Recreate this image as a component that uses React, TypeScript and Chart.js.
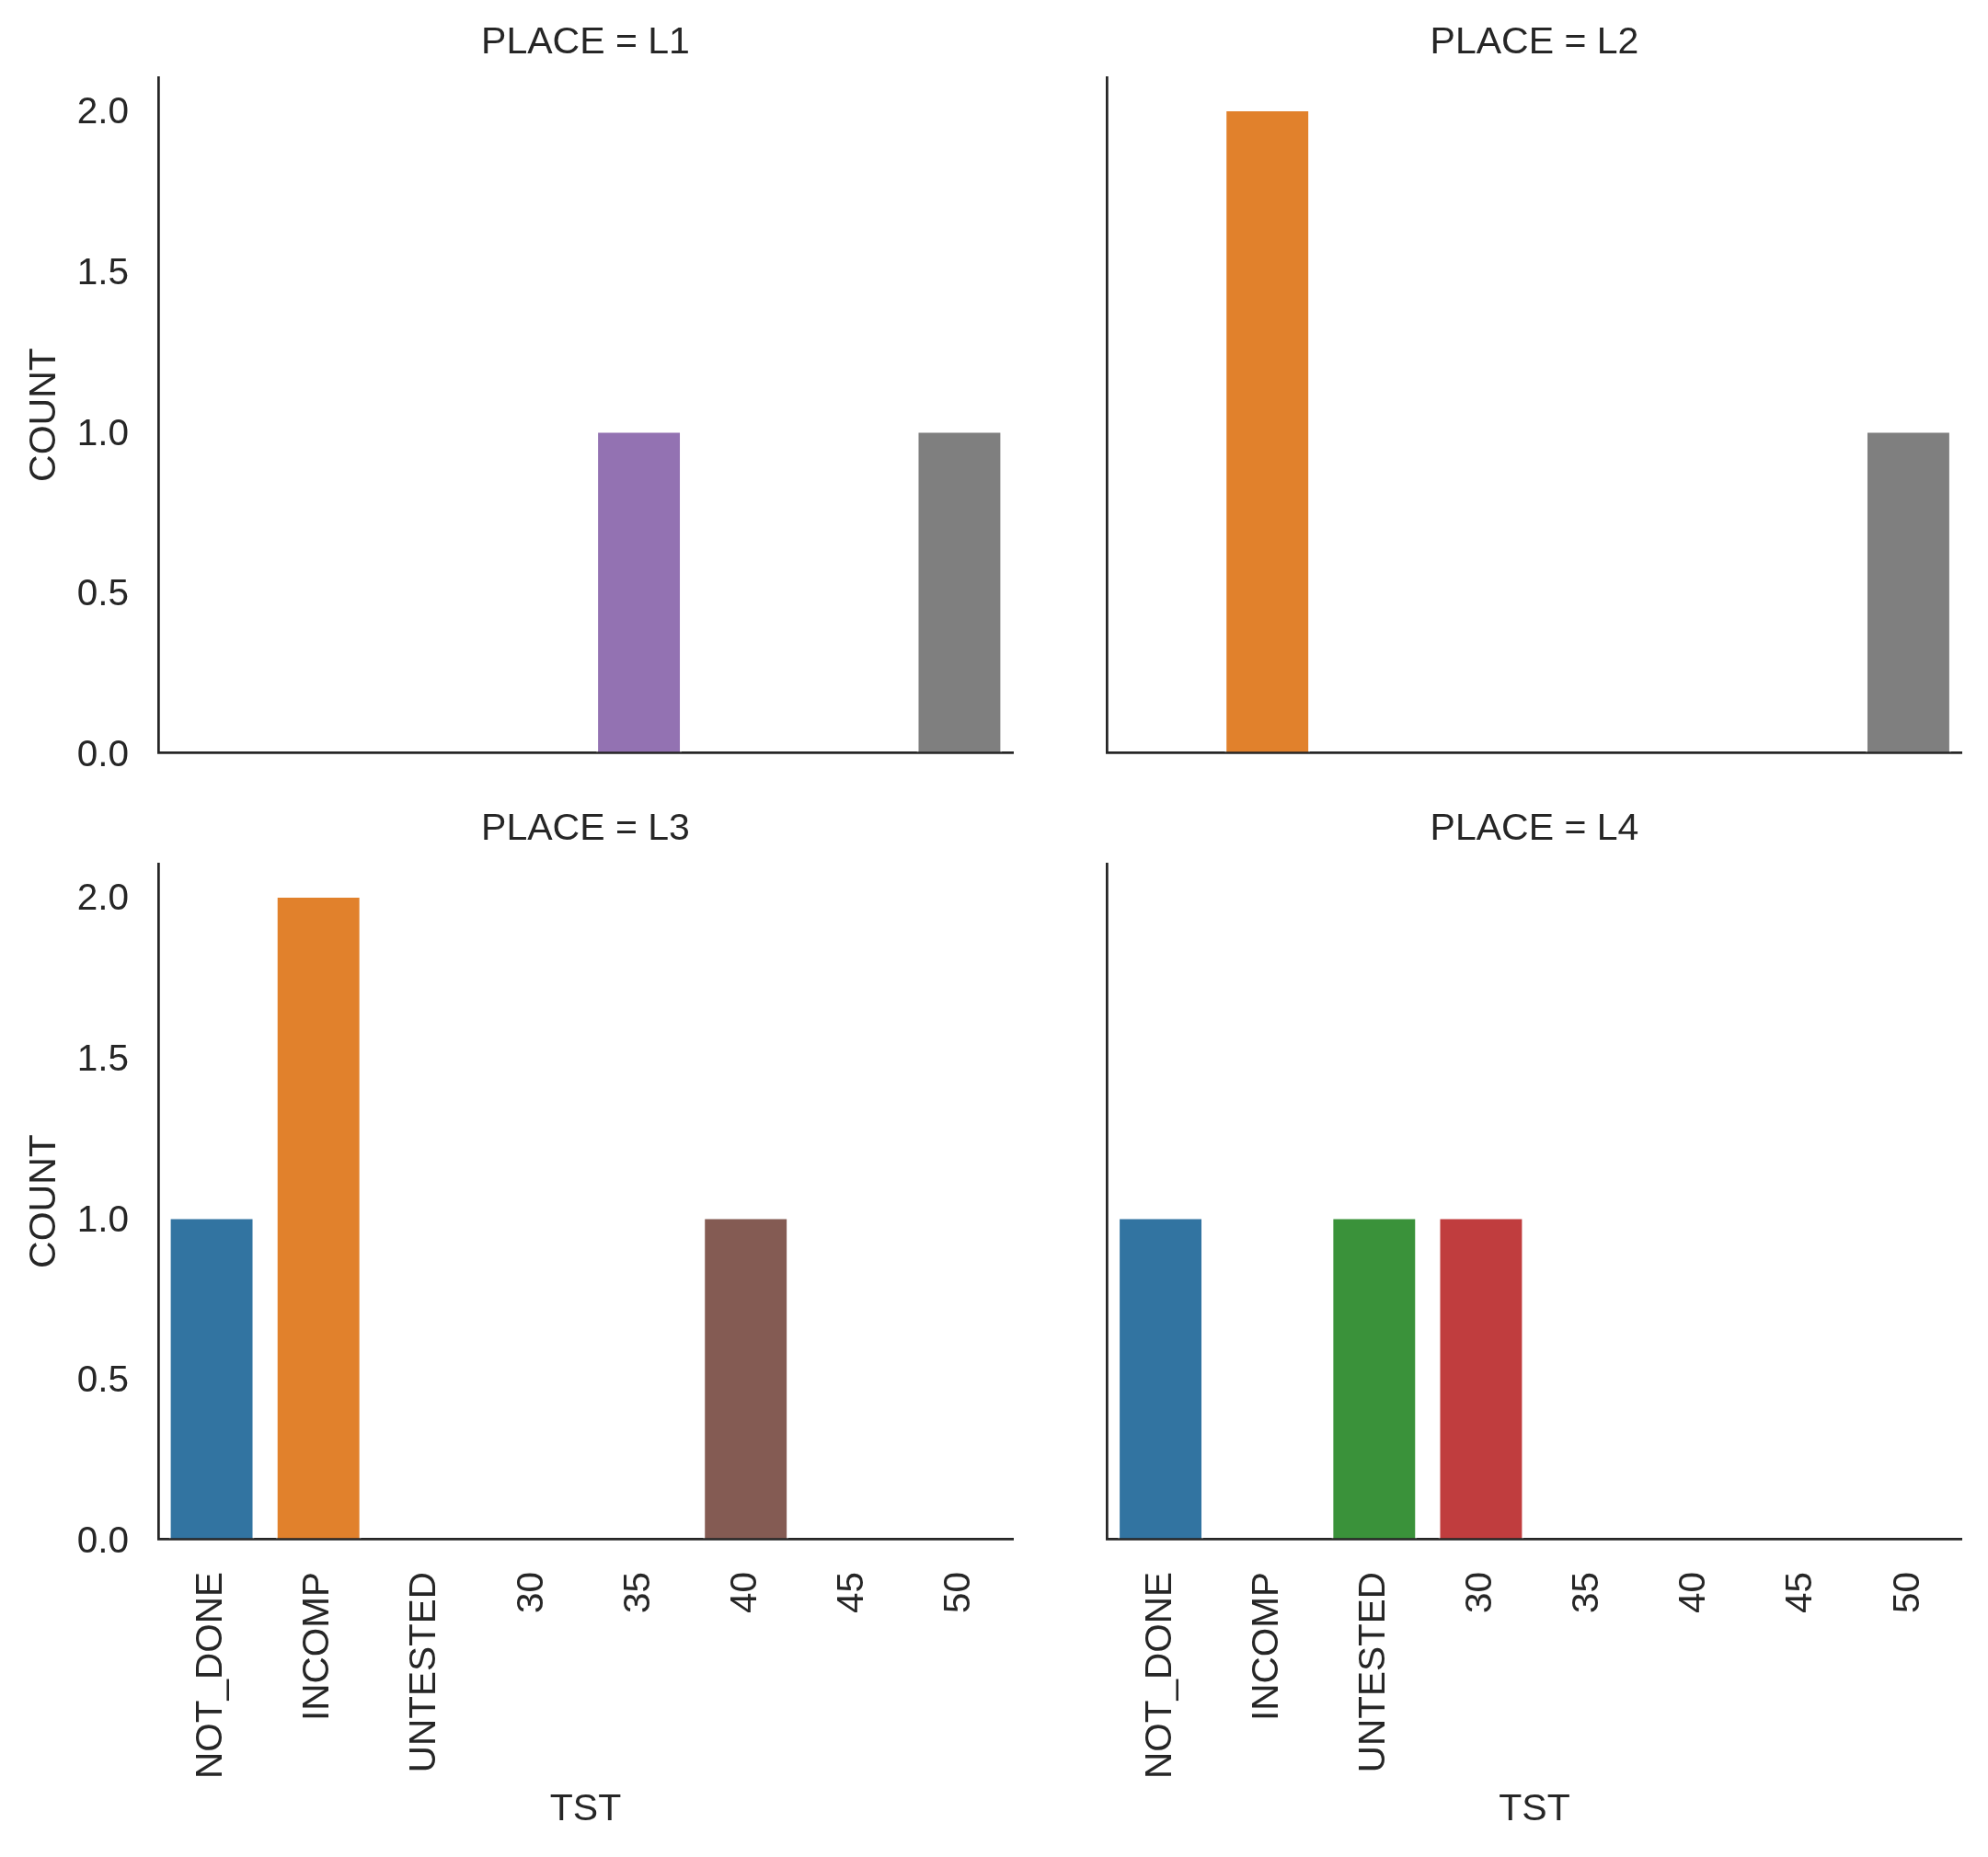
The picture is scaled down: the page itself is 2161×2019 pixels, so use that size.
import React, { useEffect, useRef } from 'react';
import { Chart, registerables } from 'chart.js';

Chart.register(...registerables);

// ---- data ----
const categories = ['NOT_DONE', 'INCOMP', 'UNTESTED', '30', '35', '40', '45', '50'];
const barColors = ['#3274A1', '#E1812C', '#3A923A', '#C03D3E', '#9372B2', '#845B53', '#D684BD', '#7F7F7F'];
const placeL1 = [0, 0, 0, 0, 1, 0, 0, 1];
const placeL2 = [0, 2, 0, 0, 0, 0, 0, 1];
const placeL3 = [1, 2, 0, 0, 0, 1, 0, 0];
const placeL4 = [1, 0, 1, 1, 0, 0, 0, 0];
const yTickValues = [0, 0.5, 1.0, 1.5, 2.0];
const yMax = 2.1;
const panelTitles = ['PLACE = L1', 'PLACE = L2', 'PLACE = L3', 'PLACE = L4'];
const xTitle = 'TST';
const yTitle = 'COUNT';

// ---- layout ----
const FONT = "'Liberation Sans', Arial, Helvetica, sans-serif";
const TEXT = '#262626';
const FS_TICK = 40.5;
const FS_LABEL = 41;

const panels = [
  { title: panelTitles[0], values: placeL1, left: 0, top: 0, width: 1150, height: 918, yw: 172, pr: 49, showY: true, showX: false, xh: 100 },
  { title: panelTitles[1], values: placeL2, left: 1150, top: 0, width: 1011, height: 918, yw: 53.5, pr: 28.5, showY: false, showX: false, xh: 100 },
  { title: panelTitles[2], values: placeL3, left: 0, top: 855, width: 1150, height: 1164, yw: 172, pr: 49, showY: true, showX: true, xh: 346 },
  { title: panelTitles[3], values: placeL4, left: 1150, top: 855, width: 1011, height: 1164, yw: 53.5, pr: 28.5, showY: false, showX: true, xh: 346 },
];

type Panel = typeof panels[number];

function PanelChart({ p }: { p: Panel }) {
  const ref = useRef<HTMLCanvasElement | null>(null);
  useEffect(() => {
    if (!ref.current) return;
    const tickFont = { family: FONT, size: FS_TICK, weight: 'normal' as const };
    const labelFont = { family: FONT, size: FS_LABEL, weight: 'normal' as const };
    const chart = new Chart(ref.current, {
      type: 'bar',
      data: {
        labels: categories,
        datasets: [
          {
            data: p.values,
            backgroundColor: barColors,
            borderColor: '#ffffff',
            borderWidth: 2,
            barPercentage: 0.8,
            categoryPercentage: 1,
          },
        ],
      },
      options: {
        responsive: false,
        animation: false,
        devicePixelRatio: 1,
        layout: { padding: { left: 0, right: p.pr, top: 0, bottom: 0 } },
        plugins: {
          legend: { display: false },
          tooltip: { enabled: false },
          title: {
            display: true,
            text: p.title,
            fullSize: false,
            color: TEXT,
            font: labelFont,
            padding: { top: 22, bottom: 12.8 },
          },
        },
        scales: {
          x: {
            type: 'category',
            grid: { display: true, drawOnChartArea: false, drawTicks: false },
            border: { display: true, color: TEXT, width: 2.75 },
            ticks: {
              display: p.showX,
              autoSkip: false,
              maxRotation: 90,
              minRotation: 90,
              padding: 36,
              color: TEXT,
              font: tickFont,
            },
            title: {
              display: p.showX,
              text: xTitle,
              color: TEXT,
              font: labelFont,
              padding: { top: 0, bottom: 26.4 },
            },
            afterFit: (s: any) => {
              s.height = p.xh;
            },
          },
          y: {
            type: 'linear',
            min: 0,
            max: yMax,
            grid: { display: true, drawOnChartArea: false, drawTicks: false },
            border: { display: true, color: TEXT, width: 2.75 },
            ticks: {
              display: p.showY,
              padding: 32,
              labelOffset: 4,
              color: TEXT,
              font: tickFont,
              callback: (v: any) => Number(v).toFixed(1),
            },
            title: {
              display: p.showY,
              text: yTitle,
              color: TEXT,
              font: labelFont,
              padding: { top: 24, bottom: 0 },
            },
            afterBuildTicks: (s: any) => {
              s.ticks = yTickValues.map((v) => ({ value: v }));
            },
            afterFit: (s: any) => {
              s.width = p.yw;
            },
          },
        },
      },
    });
    return () => chart.destroy();
  }, [p]);
  return (
    <canvas
      ref={ref}
      width={p.width}
      height={p.height}
      style={{ position: 'absolute', left: p.left, top: p.top, width: p.width, height: p.height }}
    />
  );
}

export default function App() {
  return (
    <div style={{ position: 'absolute', left: 0, top: 0, width: 2161, height: 2019, background: '#ffffff' }}>
      {panels.map((p, i) => (
        <PanelChart key={i} p={p} />
      ))}
    </div>
  );
}
